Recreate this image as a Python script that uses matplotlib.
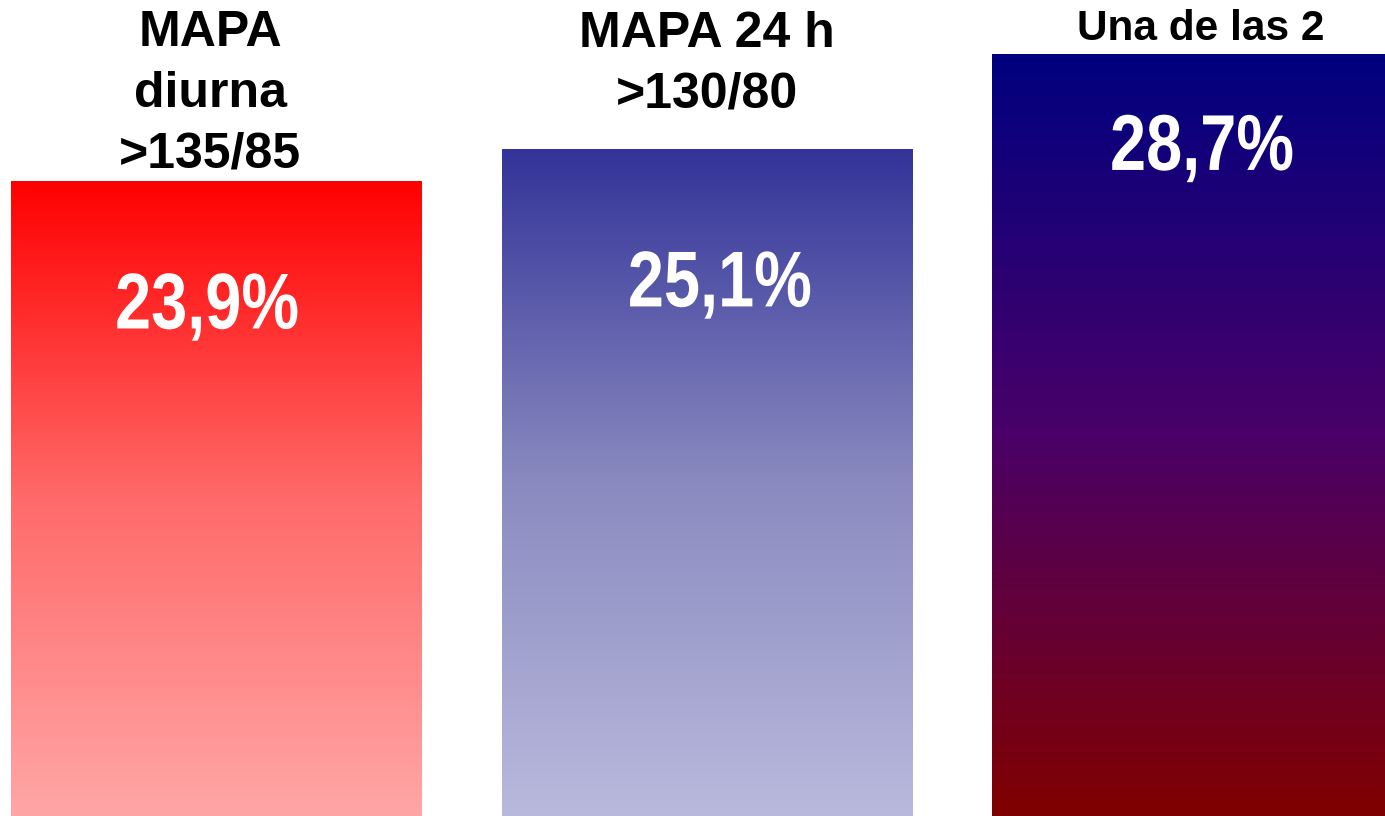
import matplotlib
matplotlib.use("Agg")
import matplotlib.pyplot as plt
import numpy as np
from matplotlib.colors import LinearSegmentedColormap
from matplotlib.patheffects import AbstractPathEffect
from matplotlib.transforms import Affine2D

# prevalence by criterion (%)
categories = ["MAPA\ndiurna\n>135/85", "MAPA 24 h\n>130/80", "Una de las 2"]
values = [23.9, 25.1, 28.7]
value_labels = ["23,9%", "25,1%", "28,7%"]

# top -> bottom colour stops for each bar
gradients = [
    ["#ff0000", "#ff6a6a", "#ffa6a6"],
    ["#333399", "#8a8ac0", "#b9b9dd"],
    ["#000080", "#4a0068", "#800000"],
]


class Condensed(AbstractPathEffect):
    """Squeeze glyphs horizontally around their own centre (narrow face look)."""

    def __init__(self, sx=0.82):
        super().__init__()
        self.sx = sx

    def draw_path(self, renderer, gc, tpath, affine, rgbFace=None):
        xs = affine.transform(tpath.vertices)[:, 0]
        cx = 0.5 * (xs.min() + xs.max())
        squeeze = Affine2D().translate(-cx, 0).scale(self.sx, 1).translate(cx, 0)
        renderer.draw_path(gc, tpath, affine + squeeze, rgbFace)


fig = plt.figure(figsize=(13.85, 8.16), dpi=100)
ax = fig.add_axes([0, 0, 1, 1])
ax.axis("off")

width = 0.836
x = np.arange(len(values))
bars = ax.bar(x, values, width, color="none", edgecolor="none")

# fill each bar with a vertical gradient clipped to the bar rectangle
grad = np.linspace(0, 1, 256).reshape(-1, 1)
for rect, stops in zip(bars, gradients):
    cmap = LinearSegmentedColormap.from_list("g", stops)
    x0 = rect.get_x()
    x1 = x0 + rect.get_width()
    h = rect.get_height()
    im = ax.imshow(grad, cmap=cmap, extent=(x0, x1, 0, h), origin="upper",
                   aspect="auto", interpolation="bicubic", zorder=1)
    im.set_clip_path(rect)
ax.set_xlim(-0.4404, 2.383)
ax.set_ylim(0, 30.73)

# category captions above the bars
cat_sizes = [36, 36, 30.5]
cat_dx = [-0.012, 0.0, 0.008]
cat_gap = [0.53, 1.58, 0.53]
for xi, v, lab, fs, dx, gap in zip(x, values, categories, cat_sizes, cat_dx, cat_gap):
    ax.text(xi + dx, v + gap, lab, ha="center", va="baseline", fontsize=fs,
            fontweight="bold", family=["Liberation Sans", "DejaVu Sans"],
            linespacing=1.40, color="black")

# value labels inside the bars
lab_dx = [-0.018, 0.0275, 0.010]
lab_drop = [5.54, 5.91, 4.37]
for xi, v, lab, dx, dy in zip(x, values, value_labels, lab_dx, lab_drop):
    ax.text(xi + dx, v - dy, lab, ha="center", va="baseline", fontsize=57,
            fontweight="bold", family=["Liberation Sans", "DejaVu Sans"],
            color="white", zorder=3, path_effects=[Condensed(0.82)])

fig.savefig("out.png", dpi=100)
